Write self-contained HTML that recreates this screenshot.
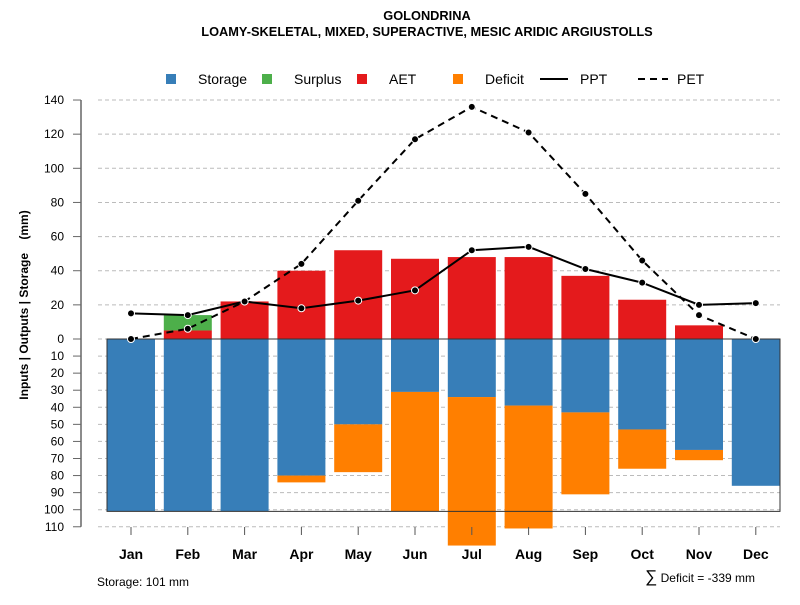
<!DOCTYPE html>
<html><head><meta charset="utf-8"><style>
body{margin:0;background:#fff;font-family:"Liberation Sans",sans-serif}
svg text{font-family:"Liberation Sans",sans-serif}
</style></head><body>
<svg id="c" width="800" height="600" xmlns="http://www.w3.org/2000/svg">
<text x="427" y="20" text-anchor="middle" font-size="12.8" font-weight="bold">GOLONDRINA</text>
<text x="427" y="36" text-anchor="middle" font-size="12.8" font-weight="bold">LOAMY-SKELETAL, MIXED, SUPERACTIVE, MESIC ARIDIC ARGIUSTOLLS</text>
<g>
<rect x="166" y="74" width="10" height="10" fill="#377eb8"/>
<text x="198" y="84" font-size="14">Storage</text>
<rect x="262" y="74" width="10" height="10" fill="#4daf4a"/>
<text x="294" y="84" font-size="14">Surplus</text>
<rect x="357" y="74" width="10" height="10" fill="#e41a1c"/>
<text x="389" y="84" font-size="14">AET</text>
<rect x="453" y="74" width="10" height="10" fill="#ff7f00"/>
<text x="485" y="84" font-size="14">Deficit</text>
<line x1="540" y1="79" x2="568" y2="79" stroke="#000" stroke-width="2"/>
<text x="580" y="84" font-size="14">PPT</text>
<line x1="638" y1="79" x2="668" y2="79" stroke="#000" stroke-width="2" stroke-dasharray="7,5"/>
<text x="677" y="84" font-size="14">PET</text>
</g>
<text transform="translate(28,305) rotate(-90)" text-anchor="middle" font-size="12" font-weight="bold">Inputs | Outputs | Storage&#160;&#160;&#160;&#160;(mm)</text>
<text x="97" y="586" font-size="12">Storage: 101 mm</text>
<text x="755" y="582" text-anchor="end" font-size="12"><tspan font-size="17">∑</tspan> Deficit = -339 mm</text>
<g id="grid"></g><g id="bars"></g><g id="axes"></g><g id="lines"></g>
</svg>
<script>
const months=["Jan","Feb","Mar","Apr","May","Jun","Jul","Aug","Sep","Oct","Nov","Dec"];
const aet=[0,5,22,40,52,47,48,48,37,23,8,0];
const surplus=[0,9,0,0,0,0,0,0,0,0,0,0];
const storage=[101,101,101,80,50,31,34,39,43,53,65,86];
const deficit=[0,0,0,4,28,70,87,72,48,23,6,0];
const ppt=[15,14,22,18,22.5,28.5,52,54,41,33,20,21];
const pet=[0,6,22,44,81,117,136,121,85,46,14,0];
const upTicks=[0,20,40,60,80,100,120,140];
const downTicks=[10,20,30,40,50,60,70,80,90,100,110];
const NS="http://www.w3.org/2000/svg";
const y0=339,k=1.707;
const y=v=>y0-v*k;
const x=i=>131+i*56.8;
const bw=48;
function mk(t,a,p){const e=document.createElementNS(NS,t);for(const n in a)e.setAttribute(n,a[n]);document.getElementById(p).appendChild(e);return e;}
upTicks.concat(downTicks.map(v=>-v)).forEach(v=>{
 const g=mk("line",{x1:98,x2:780,y1:y(v),y2:y(v),stroke:"#bbb","stroke-dasharray":"4,3"},"grid");
 
 
 const t=mk("line",{x1:73,x2:81,y1:y(v),y2:y(v),stroke:"#666"},"axes");
 
 
 const l=mk("text",{x:64,y:y(v)+4,"text-anchor":"end","font-size":12},"axes");
 l.textContent=Math.abs(v);
 
 
});
const ax=mk("line",{x1:81,x2:81,y1:y(140),y2:y(-110),stroke:"#666","stroke-width":1.5},"axes");


months.forEach((m,i)=>{
 const cx=x(i);
 function bar(top,bot,col,name){const r=mk("rect",{x:cx-bw/2,y:y(top),width:bw,height:Math.max(0,y(bot)-y(top)),fill:col},"bars");
  
  }
 if(aet[i]>0)bar(aet[i],0,"#e41a1c","aet-bar-"+m.toLowerCase());
 if(surplus[i]>0)bar(aet[i]+surplus[i],aet[i],"#4daf4a","surplus-bar-"+m.toLowerCase());
 bar(0,-storage[i],"#377eb8","storage-bar-"+m.toLowerCase());
 if(deficit[i]>0)bar(-storage[i],-storage[i]-deficit[i],"#ff7f00","deficit-bar-"+m.toLowerCase());
 const tk=mk("line",{x1:cx,x2:cx,y1:527,y2:535,stroke:"#555"},"axes");
 
 
 const t=mk("text",{x:cx,y:559,"text-anchor":"middle","font-size":14,"font-weight":"bold"},"axes");
 t.textContent=m;
 
 
});
const box=mk("path",{d:`M107 ${y0} H780 V${y(-101)} H107 Z`,fill:"none",stroke:"#333","stroke-width":1},"axes");


function series(arr,dash,name){
 const p=mk("polyline",{points:arr.map((v,i)=>x(i)+","+y(v)).join(" "),fill:"none",stroke:"#000","stroke-width":2,"stroke-dasharray":dash},"lines");
 
 
 arr.forEach((v,i)=>{const c=mk("circle",{cx:x(i),cy:y(v),r:3.5,fill:"#000",stroke:"#fff","stroke-width":1},"lines");
  
  });
}
series(ppt,"none","ppt");
series(pet,"7,5","pet");
</script>
</body></html>
